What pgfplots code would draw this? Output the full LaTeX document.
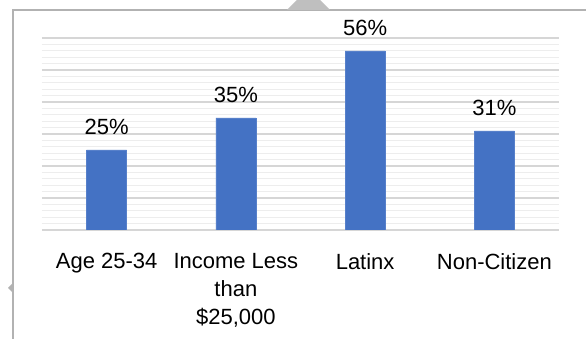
\documentclass[border=0pt]{standalone}
\usepackage{fontspec}
\setmainfont{Liberation Sans}
\usepackage{pgfplots}
\pgfplotsset{compat=1.18}
\definecolor{barblue}{HTML}{4472C4}
\begin{document}
\begin{tikzpicture}[x=1pt,y=1pt]
\path[use as bounding box] (0,0) rectangle (586,339);
\fill[white] (0,0) rectangle (586,339);
\draw[black!30, line width=2pt] (12.5,0) -- (12.5,329) -- (586,329);
\fill[black!25] (287,329) -- (297,339) -- (320,339) -- (330,329) -- cycle;
\fill[black!30] (8,51) -- (12,55) -- (12,47) -- cycle;
\begin{axis}[
  at={(42pt,109pt)}, anchor=south west,
  scale only axis, width=517pt, height=192pt,
  /pgf/number format/assume math mode=true,
  ybar, bar width=40pt, bar shift=0pt,
  ymin=0, ymax=60, ytick={0,10,...,60}, minor y tick num=4,
  yticklabels={},
  ymajorgrids, yminorgrids,
  major grid style={draw=black!16, line width=1.2pt},
  minor grid style={draw=black!7, line width=1.2pt},
  axis line style={draw=none},
  major tick style={draw=none}, minor tick style={draw=none},
  xmin=-0.5, xmax=3.5,
  xtick={0,1,2,3},
  xticklabels={{Age 25-34},{Income Less\\than\\\$25,000},{Latinx},{Non-Citizen}},
  xticklabel style={font=\fontsize{22}{28}\selectfont, align=center, anchor=north, inner sep=0pt, yshift=-19pt},
  nodes near coords={\pgfmathprintnumber{\pgfplotspointmeta}\%},
  nodes near coords style={font=\fontsize{22}{26}\selectfont, anchor=base, inner sep=0pt, yshift=15pt, black},
]
\addplot[fill=barblue, draw=barblue!90!white] coordinates {(0,25) (1,35) (2,56) (3,31)};
\end{axis}
\end{tikzpicture}
\end{document}
